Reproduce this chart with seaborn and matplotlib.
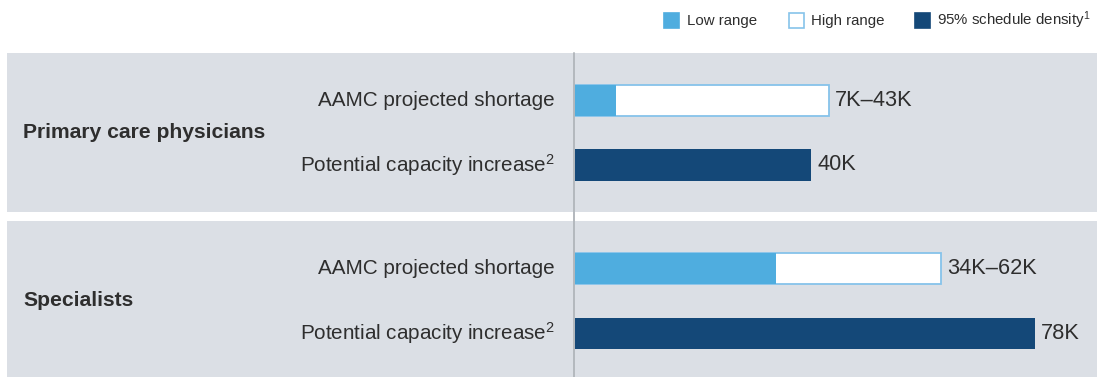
import matplotlib
matplotlib.use("Agg")
import matplotlib.pyplot as plt
from matplotlib.patches import Rectangle
from matplotlib.lines import Line2D
from matplotlib import transforms
import seaborn as sns
import pandas as pd

# ---------------- data ----------------
groups = ["Primary care physicians", "Specialists"]
metrics = ["AAMC projected shortage", "Potential capacity increase"]
low_range = [7, 34]        # K
high_range = [43, 62]      # K
capacity = [40, 78]        # K
legend_labels = ["Low range", "High range", "95% schedule density$^{1}$"]

# ---------------- style ----------------
sns.set_style("white")
plt.rcParams["font.family"] = ["Liberation Sans", "DejaVu Sans"]
plt.rcParams["mathtext.fontset"] = "custom"
plt.rcParams["mathtext.rm"] = "Liberation Sans"
plt.rcParams["mathtext.it"] = "Liberation Sans"

PANEL = "#dbdfe5"
LIGHT = "#4faddf"
EDGE = "#86c3ea"
NAVY = "#144878"
TXT = "#2e2e2e"
AXIS = "#b3b8bd"

W, H = 1097, 377
fig = plt.figure(figsize=(W / 100, H / 100), dpi=100)
fig.patch.set_facecolor("white")

px_per_k = 5.9
zero_px = 575
xl = ((7 - zero_px) / px_per_k, (W - zero_px) / px_per_k)

panels = [
    dict(top=53, bottom=212, c0=100.5, c1=165.0),
    dict(top=221, bottom=377, c0=268.5, c1=333.5),
]

axes = []
for i, p in enumerate(panels):
    ax = fig.add_axes([7 / W, 1 - p["bottom"] / H, 1 - 7 / W, (p["bottom"] - p["top"]) / H])
    ax.set_facecolor(PANEL)
    sp = p["c1"] - p["c0"]
    bw = 31.5 / sp

    df_high = pd.DataFrame({"metric": [metrics[0]], "value": [high_range[i]]})
    df_cap = pd.DataFrame({"metric": [metrics[1]], "value": [capacity[i]]})
    df_low = pd.DataFrame({"metric": [metrics[0]], "value": [low_range[i]]})

    sns.barplot(data=df_high, x="value", y="metric", order=metrics, color="white",
                saturation=1, width=bw, edgecolor=EDGE, linewidth=1.3, ax=ax, errorbar=None)
    sns.barplot(data=df_low, x="value", y="metric", order=metrics, color=LIGHT,
                saturation=1, width=bw, linewidth=0, ax=ax, errorbar=None)
    sns.barplot(data=df_cap, x="value", y="metric", order=metrics, color=NAVY,
                saturation=1, width=bw, linewidth=0, ax=ax, errorbar=None)

    ax.set_xlim(*xl)
    ax.set_ylim(1 + (p["bottom"] - p["c1"]) / sp, -(p["c0"] - p["top"]) / sp)
    ax.set_xticks([]); ax.set_yticks([])
    ax.set_xlabel(""); ax.set_ylabel("")
    for s in ax.spines.values():
        s.set_visible(False)

    lab_x = (555 - zero_px) / px_per_k
    ax.text(lab_x, 0, metrics[0], ha="right", va="center", fontsize=14.9, color=TXT)
    ax.text(lab_x, 1, metrics[1] + "$^{2}$", ha="right", va="center", fontsize=14.9, color=TXT)
    ax.text((23 - zero_px) / px_per_k, 0.5, groups[i], ha="left", va="center",
            fontsize=15.2, fontweight="bold", color=TXT)

    off = 6 / px_per_k
    ax.text(high_range[i] + off, 0, f"{low_range[i]}K–{high_range[i]}K", ha="left",
            va="center", fontsize=15.7, color=TXT)
    ax.text(capacity[i] + off, 1, f"{capacity[i]}K", ha="left", va="center",
            fontsize=15.7, color=TXT)
    axes.append(ax)

# vertical zero line spanning both panels
bt = transforms.blended_transform_factory(axes[1].transData, fig.transFigure)
fig.add_artist(Line2D([-0.15, -0.15], [0, 1 - 53 / H], transform=bt, color=AXIS, lw=1.4, zorder=5))

# legend (manual)
sq = 15
ly = 20.5
items = [(664, 687, LIGHT, LIGHT), (789, 811, "white", EDGE), (915, 937, NAVY, NAVY)]
for (sx, tx, fc, ec), lab in zip(items, legend_labels):
    fig.add_artist(Rectangle((sx / W, 1 - (ly + sq / 2) / H), sq / W, sq / H,
                             transform=fig.transFigure, facecolor=fc, edgecolor=ec, lw=1.2))
    fig.text(tx / W, 1 - ly / H, lab, ha="left", va="center", fontsize=10.8, color=TXT)

fig.savefig("out.png", dpi=100)
